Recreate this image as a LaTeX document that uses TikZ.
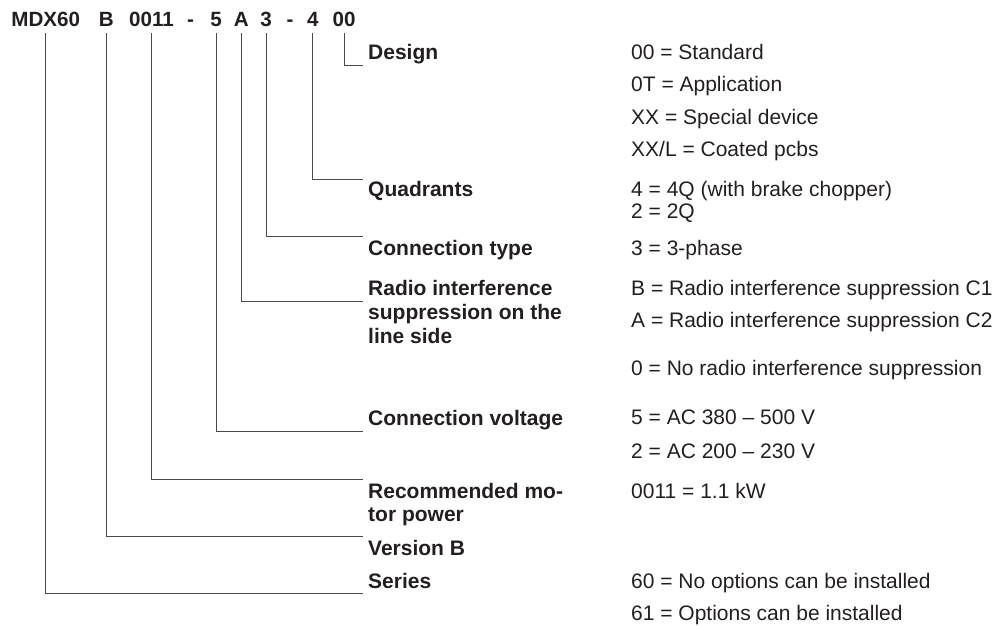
\documentclass[tikz,border=0pt]{standalone}
\usepackage{fontspec}
\setmainfont{Liberation Sans}
\definecolor{txt}{HTML}{231F20}
\definecolor{ln}{HTML}{4A4A4A}
\begin{document}
\begin{tikzpicture}[x=1pt,y=-1pt,
  code/.style={font=\bfseries\fontsize{20.6}{24}\selectfont, anchor=base, inner sep=0pt, text=txt},
  lab/.style={font=\bfseries\fontsize{21}{24}\selectfont, anchor=base west, inner sep=0pt, text=txt},
  val/.style={font=\fontsize{21}{24}\selectfont, anchor=base west, inner sep=0pt, text=txt},
  conn/.style={draw=ln, line width=0.9pt}]
\useasboundingbox (0,0) rectangle (1008,625);
% code pieces
\node[code] (cMDX) at (45.8,26.7) {MDX60};
\node[code] (cB) at (106.3,26.7) {B};
\node[code] (c0011) at (151.5,26.7) {0011};
\node[code] (d1) at (190.5,26.7) {-};
\node[code] (c5) at (216,26.7) {5};
\node[code] (cA) at (241.3,26.7) {A};
\node[code] (c3) at (266,26.7) {3};
\node[code] (d2) at (290,26.7) {-};
\node[code] (c4) at (312.8,26.7) {4};
\node[code] (c00) at (344,26.7) {00};
% labels
\node[lab] (lDesign) at (368,59) {Design};
\node[lab] (lQuad) at (368,196.7) {Quadrants};
\node[lab] (lCType) at (368,255) {Connection type};
\node[lab] (lRadio1) at (368,295) {Radio interference};
\node[lab] (lRadio2) at (368,319) {suppression on the};
\node[lab] (lRadio3) at (368,343) {line side};
\node[lab] (lVolt) at (368,425) {Connection voltage};
\node[lab] (lRec1) at (368,498) {Recommended mo-};
\node[lab] (lRec2) at (368,521.5) {tor power};
\node[lab] (lVer) at (368,555) {Version B};
\node[lab] (lSer) at (368,588) {Series};
% values
\node[val] (v1) at (631,59) {00 = Standard};
\node[val] (v2) at (631,91.7) {0T = Application};
\node[val] (v3) at (631,124.2) {XX = Special device};
\node[val] (v4) at (631,156.7) {XX/L = Coated pcbs};
\node[val] (v5) at (631,196.7) {4 = 4Q (with brake chopper)};
\node[val] (v6) at (631,218) {2 = 2Q};
\node[val] (v7) at (631,255) {3 = 3-phase};
\node[val] (v8) at (631,295) {B = Radio interference suppression C1};
\node[val] (v9) at (631,327.5) {A = Radio interference suppression C2};
\node[val] (v10) at (631,375) {0 = No radio interference suppression};
\node[val] (v11) at (631,424.5) {5 = AC 380 -- 500 V};
\node[val] (v12) at (631,458) {2 = AC 200 -- 230 V};
\node[val] (v13) at (631,498) {0011 = 1.1 kW};
\node[val] (v14) at (631,588) {60 = No options can be installed};
\node[val] (v15) at (631,620) {61 = Options can be installed};
% line ends
\coordinate (eDesign) at (363.3,65);
\coordinate (eQuad) at (363.3,179.3);
\coordinate (eCType) at (363.3,236);
\coordinate (eRadio) at (363.3,301);
\coordinate (eVolt) at (363.3,431);
\coordinate (eRec) at (363.3,479.3);
\coordinate (eVer) at (363.3,536.7);
\coordinate (eSer) at (363.3,593.7);
% connectors
\draw[conn] ([yshift=-6.3pt]c00.south) |- (eDesign);
\draw[conn] ([yshift=-6.3pt]c4.south) |- (eQuad);
\draw[conn] ([yshift=-6.3pt]c3.south) |- (eCType);
\draw[conn] ([yshift=-6.3pt]cA.south) |- (eRadio);
\draw[conn] ([yshift=-6.3pt]c5.south) |- (eVolt);
\draw[conn] ([yshift=-6.3pt]c0011.south) |- (eRec);
\draw[conn] ([yshift=-6.3pt]cB.south) |- (eVer);
\draw[conn] ([yshift=-6.3pt]cMDX.south) |- (eSer);
\end{tikzpicture}
\end{document}
